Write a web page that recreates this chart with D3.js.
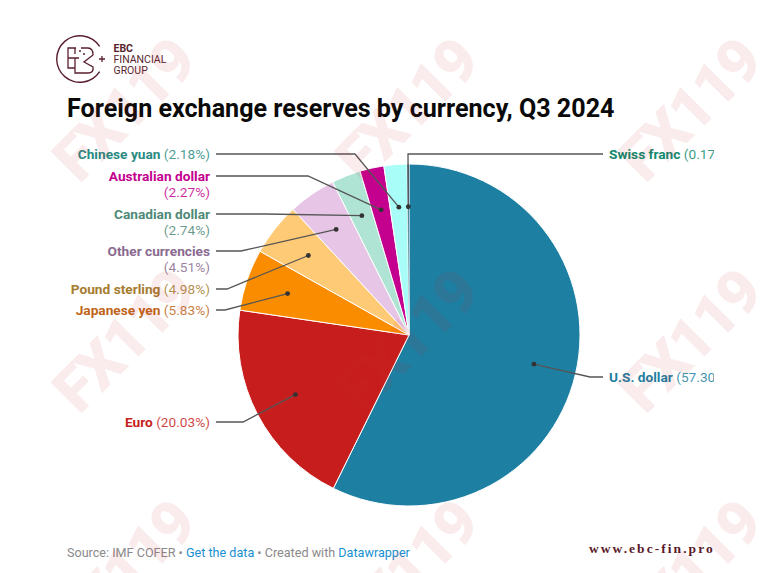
<!DOCTYPE html>
<html>
<head>
<meta charset="utf-8">
<script src="https://cdn.jsdelivr.net/npm/d3@7"></script>
<style>
  html, body { margin: 0; padding: 0; background: #fff; }
  svg { display: block; font-family: Roboto, sans-serif; }
</style>
</head>
<body>
<svg id="chart"></svg>
<script>
// Chart data
var currencies = ["U.S. dollar", "Euro", "Japanese yen", "Pound sterling", "Other currencies",
  "Canadian dollar", "Australian dollar", "Chinese yuan", "Swiss franc"];
var shares = [57.30, 20.03, 5.83, 4.98, 4.51, 2.74, 2.27, 2.18, 0.17];
var sliceColours = ["#1d7fa2", "#c71e1d", "#fa8c00", "#ffca76", "#e6c5e6", "#afe3d3", "#c4008f", "#a9fdf8", "#15607a"];
var textColours = ["#1d7fa2", "#c71e1d", "#c0651a", "#a67c2e", "#8a6a90", "#4f8a78", "#c4008f", "#2a8a82", "#0f8a6e"];

// Where each label sits: row, elbow of its leader line, and whether the value wraps
var labelRow = [377, 422, 310, 289, 251, 214, 176, 154, 154];
var elbowX = [590, 243, 225, 227, 241, 265, 308, 355, 408];
var valueWraps = [false, false, false, false, true, true, true, false, false];

var watermarkCols = [0, 1, 2];
var watermarkRows = [0, 1, 2];

var width = 778,
  height = 573,
  cx = 409,
  cy = 335,
  radius = 171;

var svg = d3.select("#chart").attr("width", width).attr("height", height);

// Labels are cut off at the right edge of the chart area
svg.append("defs").append("clipPath").attr("id", "labelClip")
  .append("rect").attr("x", 0).attr("y", 0).attr("width", 714).attr("height", height);

// Pie
var pie = d3.pie().value(function (d) { return d; }).sort(null);
var arc = d3.arc().innerRadius(0).outerRadius(radius);
var dotArc = d3.arc().innerRadius(radius * 0.75).outerRadius(radius * 0.75);
var arcs = pie(shares);

var pieG = svg.append("g").attr("transform", "translate(" + cx + "," + cy + ")");
pieG.selectAll("path")
  .data(arcs)
  .enter()
  .append("path")
  .attr("d", arc)
  .attr("fill", function (d, i) { return sliceColours[i]; })
  .attr("stroke", "#fff")
  .attr("stroke-width", function (d) { return d.value < 1 ? 0.4 : 1; });

// Leader lines and their dots
var leaders = svg.append("g");
arcs.forEach(function (d, i) {
  var c = dotArc.centroid(d),
    dot = [cx + c[0], cy + c[1]],
    right = i === 0 || i === 8,
    endX = right ? 603 : 216;
  var points = [dot, [elbowX[i], labelRow[i]], [endX, labelRow[i]]];
  leaders.append("path")
    .attr("d", d3.line()(points))
    .attr("fill", "none")
    .attr("stroke", "#555")
    .attr("stroke-width", 1.3);
  leaders.append("circle")
    .attr("cx", dot[0])
    .attr("cy", dot[1])
    .attr("r", 2.4)
    .attr("fill", "#333");
});

// Labels
var labels = svg.append("g").attr("clip-path", "url(#labelClip)").attr("font-size", 13.7);
currencies.forEach(function (name, i) {
  var right = i === 0 || i === 8,
    x = right ? 609 : 210,
    value = "(" + shares[i].toFixed(2) + "%)";
  var t = labels.append("text")
    .attr("x", x)
    .attr("y", labelRow[i] + 5)
    .attr("text-anchor", right ? "start" : "end")
    .attr("fill", textColours[i]);
  t.append("tspan").attr("font-weight", 700).text(name);
  if (valueWraps[i]) {
    labels.append("text")
      .attr("x", x)
      .attr("y", labelRow[i] + 21)
      .attr("text-anchor", "end")
      .attr("fill", textColours[i])
      .attr("fill-opacity", 0.85)
      .text(value);
  } else {
    t.append("tspan").attr("fill-opacity", 0.85).text(" " + value);
  }
});

// Title
svg.append("text")
  .attr("x", 67)
  .attr("y", 117)
  .attr("font-size", 25.1)
  .attr("font-weight", 700)
  .attr("fill", "#0a0a0a")
  .text("Foreign exchange reserves by currency, Q3 2024");

// Footer
var footer = svg.append("text")
  .attr("x", 67)
  .attr("y", 557)
  .attr("font-size", 12.6)
  .attr("fill", "#8a8a8a");
footer.append("tspan").text("Source: IMF COFER • ");
footer.append("tspan").attr("fill", "#1a8fd0").text("Get the data");
footer.append("tspan").text(" • Created with ");
footer.append("tspan").attr("fill", "#1a8fd0").text("Datawrapper");

svg.append("text")
  .attr("x", 589)
  .attr("y", 553)
  .attr("font-family", "'Liberation Serif', serif")
  .attr("font-size", 13.5)
  .attr("font-weight", 700)
  .attr("letter-spacing", 2.05)
  .attr("fill", "#5a1a2a")
  .text("www.ebc-fin.pro");

// Logo
var logoColour = "#5a1f2e";
var logo = svg.append("g")
  .attr("fill", "none")
  .attr("stroke", logoColour)
  .attr("stroke-width", 1.3);
logo.append("path")
  .attr("d", d3.arc()({ innerRadius: 22.6, outerRadius: 24, startAngle: 2.14, endAngle: 2 * Math.PI + 1.0 }))
  .attr("transform", "translate(80,59)")
  .attr("fill", logoColour)
  .attr("stroke", "none");
logo.append("path").attr("d", "M76,48 H68 V68 H75 M68,58 H79");           // E
logo.append("path").attr("d", "M75,48 V54 M81,48 H88 Q93,48 93,55 L84,62 L93,67 Q94,73 88,73 H75 V58"); // B
logo.append("path").attr("d", "M79,51 H81 M83,54 H85");
logo.append("path").attr("d", "M99,59 H105 M102,56 V62");
var logoText = svg.append("g").attr("fill", logoColour).attr("font-size", 10.5);
logoText.append("text").attr("x", 113.5).attr("y", 52).attr("font-weight", 700).text("EBC");
logoText.append("text").attr("x", 113.5).attr("y", 63).text("FINANCIAL");
logoText.append("text").attr("x", 113.5).attr("y", 74).text("GROUP");

// Watermark goes over everything
var marks = svg.append("g").attr("pointer-events", "none");
watermarkRows.forEach(function (r) {
  watermarkCols.forEach(function (c) {
    marks.append("text")
      .attr("transform", "translate(" + (139 + c * 283) + "," + (125 + r * 231) + ") rotate(-45)")
      .attr("text-anchor", "middle")
      .attr("font-size", 62)
      .attr("font-weight", 900)
      .attr("letter-spacing", -2.5)
      .attr("fill", "#c4262e")
      .attr("fill-opacity", 0.09)
      .text("FX119");
  });
});
</script>
</body>
</html>
